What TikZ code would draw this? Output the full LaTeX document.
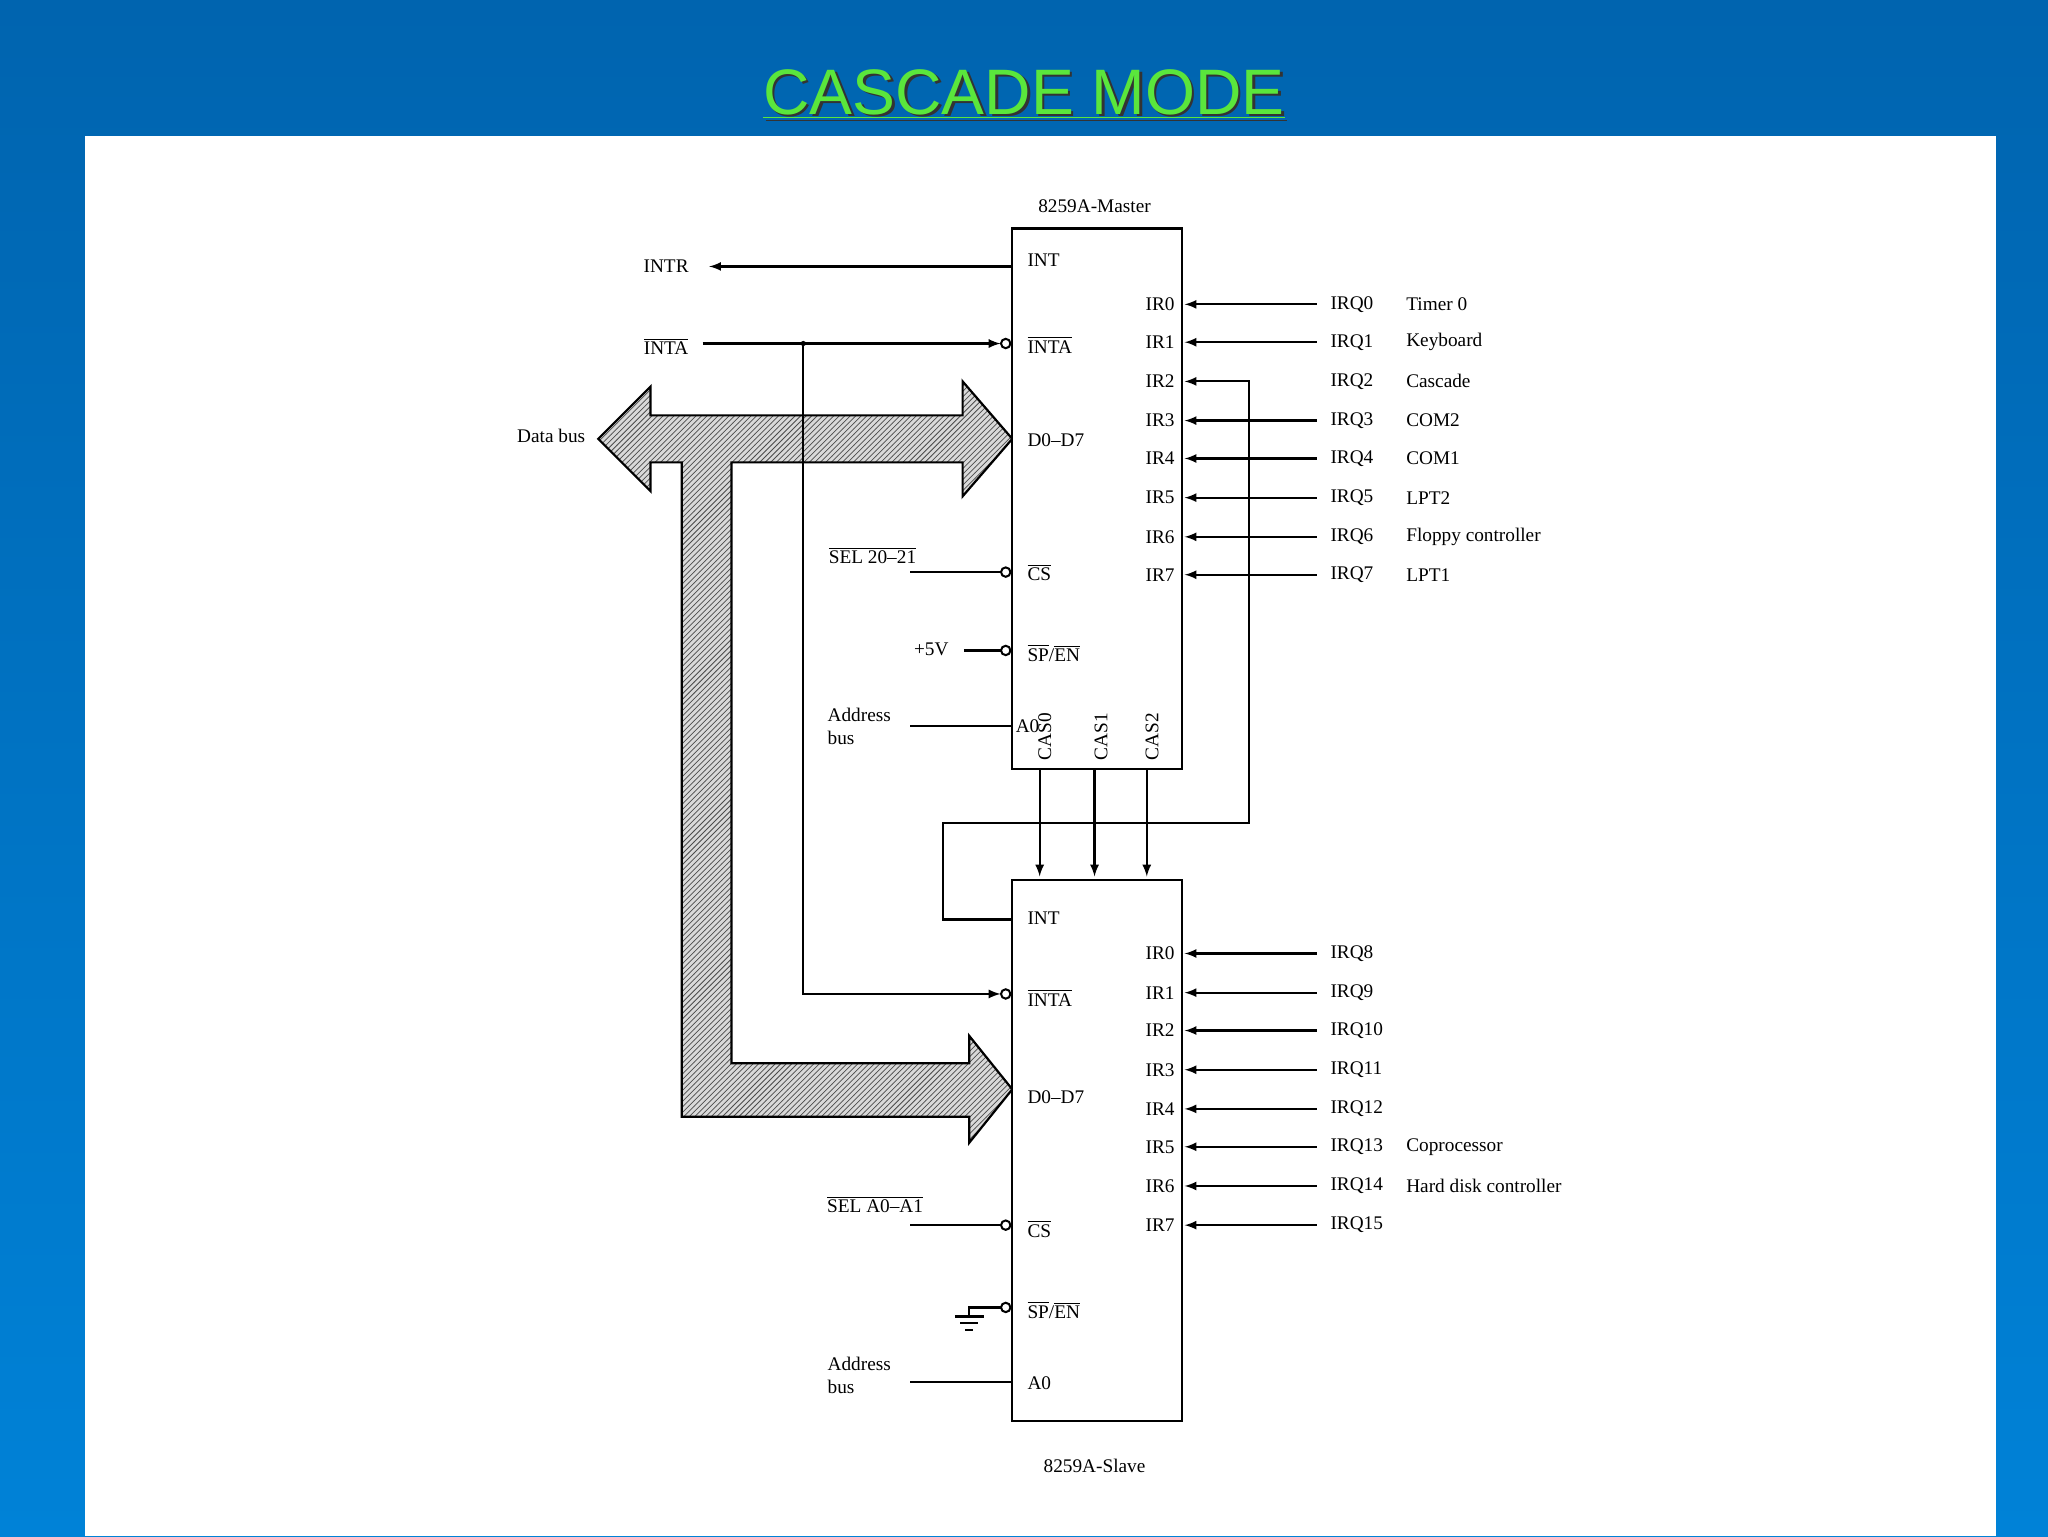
\documentclass[tikz,border=0pt]{standalone}
\usepackage{fontspec}
\setmainfont{Liberation Serif}
\newfontfamily\titlefont{Liberation Sans}
\usetikzlibrary{positioning,patterns}
\begin{document}
\begin{tikzpicture}[x=0.25mm,y=-0.25mm,
  lbl/.style={font=\fontsize{10.5}{12.5}\selectfont, inner sep=1pt},
  chip/.style={draw, line width=1.2pt, fill=white},
  wire/.style={line width=1.2pt},
  sig/.style={-latex, line width=1.2pt},
  bub/.style={circle, draw, line width=1.1pt, fill=white, inner sep=0pt, minimum size=1.8mm},
  bus/.style={draw, line width=1.2pt, pattern=north east lines, pattern color=black!70}]
% background
\shade[top color={rgb,255:red,0;green,100;blue,175}, bottom color={rgb,255:red,0;green,130;blue,215}] (0,0) rectangle (1568,1176);
\useasboundingbox (0,0) rectangle (1568,1176);
\fill[white] (65,104) rectangle (1528,1176);
\node[font=\titlefont\fontsize{35}{40}\selectfont, text=black!80] (tshadow) at (786,74) {\underline{CASCADE MODE}};
\node[font=\titlefont\fontsize{35}{40}\selectfont, text={rgb,255:red,90;green,230;blue,60}] (title) at (784,72) {\underline{CASCADE MODE}};
% data bus
\fill[white!85!black] (458,336) -- (498,296) -- (498,318) -- (737,318) -- (737,292) -- (775,336) -- (737,380) -- (737,354) -- (560,354) -- (560,814) -- (742,814) -- (742,793) -- (775,834) -- (742,875) -- (742,855) -- (522,855) -- (522,354) -- (498,354) -- (498,376) -- cycle;
\path[bus] (458,336) -- (498,296) -- (498,318) -- (737,318) -- (737,292) -- (775,336) -- (737,380) -- (737,354) -- (560,354) -- (560,814) -- (742,814) -- (742,793) -- (775,834) -- (742,875) -- (742,855) -- (522,855) -- (522,354) -- (498,354) -- (498,376) -- cycle;
\node[lbl] (dbus) at (422,334) {Data bus};
% chips
\draw[chip] (775,175) rectangle (905,589);
\draw[chip] (775,674) rectangle (905,1088);
\node[lbl] (mname) at (838,158) {8259A-Master};
\node[lbl] (sname) at (838,1122) {8259A-Slave};
% master pins
\node[lbl, anchor=west] (mint) at (785,199) {INT};
\node[lbl, anchor=west] (minta) at (785,264) {$\overline{\mbox{INTA}}$};
\node[lbl, anchor=west] (md) at (785,337) {D0--D7};
\node[lbl, anchor=west] (mcs) at (785,438) {$\overline{\mbox{CS}}$};
\node[lbl, anchor=west] (msp) at (785,500) {$\overline{\mbox{SP}}$/$\overline{\mbox{EN}}$};
\node[lbl, anchor=west] (ma0) at (776,556) {A0};
\foreach \n/\x in {0/800,1/843,2/882}
  \node[lbl, rotate=90] (cas\n) at (\x,564) {CAS\n};
\node[lbl] (intr) at (510,204) {INTR};
\node[lbl] (intain) at (510,265) {$\overline{\mbox{INTA}}$};
\node[lbl] (msel) at (668,425) {$\overline{\mbox{SEL 20--21}}$};
\node[lbl] (vcc) at (713,497) {+5V};
\node[lbl, align=left, anchor=west] (maddr) at (632,556) {Address\\bus};
\draw[sig] (775,204) -- (543,204);
\draw[wire] (538,263) -- (615,263);
\draw[sig] (615,263) -- (766,263);
\fill (615,263) circle (2);
\draw[sig] (615,263) -- (615,761) -- (766,761);
\node[bub] (mib) at (770,263) {};
\node[bub] (sib) at (770,761) {};
\draw[wire] (697,438) -- (767,438);
\node[bub] (mcb) at (770,438) {};
\draw[wire] (738,498) -- (767,498);
\node[bub] (mspb) at (770,498) {};
\draw[wire] (697,556) -- (775,556);
% IR inputs master
\foreach \i/\y/\d in {0/233/Timer 0,1/262/Keyboard,2/292/Cascade,3/322/COM2,4/351/COM1,5/381/LPT2,6/411/Floppy controller,7/440/LPT1}{
  \node[lbl, anchor=east] (mir\i) at (901,\y) {IR\i};
  \node[lbl, anchor=west] (mq\i) at (1017,\y) {IRQ\i};
  \node[lbl, anchor=west] (md\i) at (1075,\y) {\d};
}
\foreach \i/\y in {0/233,1/262,3/322,4/351,5/381,6/411,7/440}
  \draw[sig] (1008,\y) -- (907,\y);
% cascade
\draw[sig] (775,704) -- (722,704) -- (722,630) -- (956,630) -- (956,292) -- (907,292);
\foreach \x in {796,838,878}
  \draw[sig] (\x,589) -- (\x,671);
% slave pins
\node[lbl, anchor=west] (sint) at (785,703) {INT};
\node[lbl, anchor=west] (sinta) at (785,764) {$\overline{\mbox{INTA}}$};
\node[lbl, anchor=west] (sd) at (785,840) {D0--D7};
\node[lbl, anchor=west] (scs) at (785,941) {$\overline{\mbox{CS}}$};
\node[lbl, anchor=west] (ssp) at (785,1003) {$\overline{\mbox{SP}}$/$\overline{\mbox{EN}}$};
\node[lbl, anchor=west] (sa0) at (785,1059) {A0};
\node[lbl] (ssel) at (670,922) {$\overline{\mbox{SEL A0--A1}}$};
\node[lbl, align=left, anchor=west] (saddr) at (632,1053) {Address\\bus};
\draw[wire] (697,938) -- (767,938);
\node[bub] (scb) at (770,938) {};
\draw[wire] (697,1058) -- (775,1058);
% ground
\draw[wire] (767,1001) -- (742,1001) -- (742,1008);
\draw[wire] (731,1008) -- (753,1008) (735,1013) -- (749,1013) (739,1018) -- (745,1018);
\node[bub] (sspb) at (770,1001) {};
\foreach \i/\y/\d in {0/730/,1/760/,2/789/,3/819/,4/849/,5/878/Coprocessor,6/908/Hard disk controller,7/938/}{
  \node[lbl, anchor=east] (sir\i) at (901,\y) {IR\i};
  \pgfmathtruncatemacro\q{\i+8}
  \node[lbl, anchor=west] (sq\i) at (1017,\y) {IRQ\q};
  \node[lbl, anchor=west] (sd\i) at (1075,\y) {\d};
  \draw[sig] (1008,\y) -- (907,\y);
}
\end{tikzpicture}
\end{document}
